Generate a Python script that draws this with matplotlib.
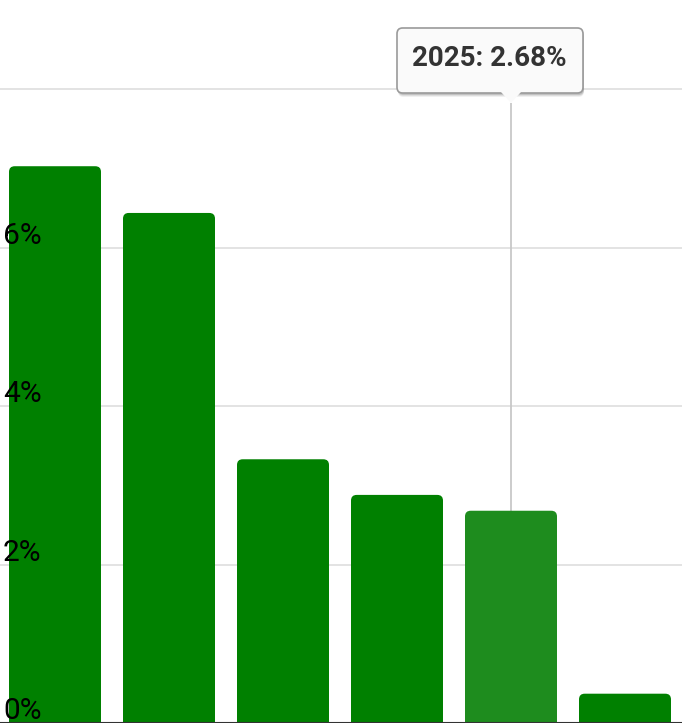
import matplotlib.pyplot as plt
from matplotlib.patches import FancyBboxPatch, Polygon
from matplotlib.transforms import blended_transform_factory

years = ['2021', '2022', '2023', '2024', '2025', '2026']
values = [7.03, 6.44, 3.33, 2.88, 2.68, 0.37]
y_ticks = [0, 2, 4, 6]
grid_lines = [2, 4, 6, 8]
hover_idx = 4

W, H = 689, 725
fig = plt.figure(figsize=(W / 100, H / 100), dpi=100, facecolor='white')
# plot area: x band from -2px to 682px, baseline at 723px from top
ax = fig.add_axes([-2 / W, 2 / H, 684 / W, 723 / H])
ax.set_xlim(-0.5, len(years) - 0.5)
ax.set_ylim(0, 723 / 79.2)
ax.axis('off')

for g in grid_lines:
    ax.axhline(g, color='#e0e0e0', lw=1.3, zorder=0)

# hover crosshair
ax.vlines(hover_idx, values[hover_idx], (723 - 103) / 79.2, color='#c8c8c8', lw=1.3, zorder=1)

bars = ax.bar(range(len(years)), values, width=92 / 114, color='#008000')
aspect = 114 / 79.2
for i, b in enumerate(bars):
    b.set_visible(False)
    col = '#1e8c1e' if i == hover_idx else '#008000'
    p = FancyBboxPatch((b.get_x(), -0.2), b.get_width(), b.get_height() + 0.2,
                       boxstyle='round,pad=0,rounding_size=0.05',
                       mutation_aspect=aspect, fc=col, ec='none', zorder=2,
                       clip_on=True)
    ax.add_patch(p)

ax.axhline(0, color='#333333', lw=1.5, zorder=3)

trans = blended_transform_factory(fig.transFigure, ax.transData)
for t in y_ticks:
    ax.text(3 / W, t + 4 / 79.2, f'{t}%', transform=trans, ha='left', va='baseline',
            fontsize=21.5, family='Roboto', color='black', zorder=4)

# tooltip
def fx(px):
    return px / W

def fy(py):
    return 1 - py / H

x0, x1, y0, y1 = 397, 583, 28, 93
for k, a in [(4, 0.06), (3, 0.08), (2, 0.12)]:
    shadow = FancyBboxPatch((fx(x0 + 1), fy(y1 + k)), fx(x1 - x0), (y1 - y0) / H,
                            boxstyle='round,pad=0,rounding_size=0.008',
                            transform=fig.transFigure, fc='#000000', alpha=a,
                            ec='none', zorder=5)
    fig.patches.append(shadow)
box = FancyBboxPatch((fx(x0), fy(y1)), fx(x1 - x0), (y1 - y0) / H,
                     boxstyle='round,pad=0,rounding_size=0.008',
                     transform=fig.transFigure, fc='#fafafa', ec='#9a9a9a',
                     lw=1.2, zorder=6)
fig.patches.append(box)
tri = Polygon([(fx(501), fy(92)), (fx(521), fy(92)), (fx(511), fy(103))],
              closed=True, transform=fig.transFigure, fc='#fafafa',
              ec='none', zorder=7)
fig.patches.append(tri)
fig.text(fx(489), fy(58.5), f'{years[hover_idx]}: {values[hover_idx]:.2f}%',
         ha='center', va='center', fontsize=20, fontweight='bold',
         family='Roboto', color='#333333', zorder=10)

fig.savefig('out.png', dpi=100, facecolor='white')
